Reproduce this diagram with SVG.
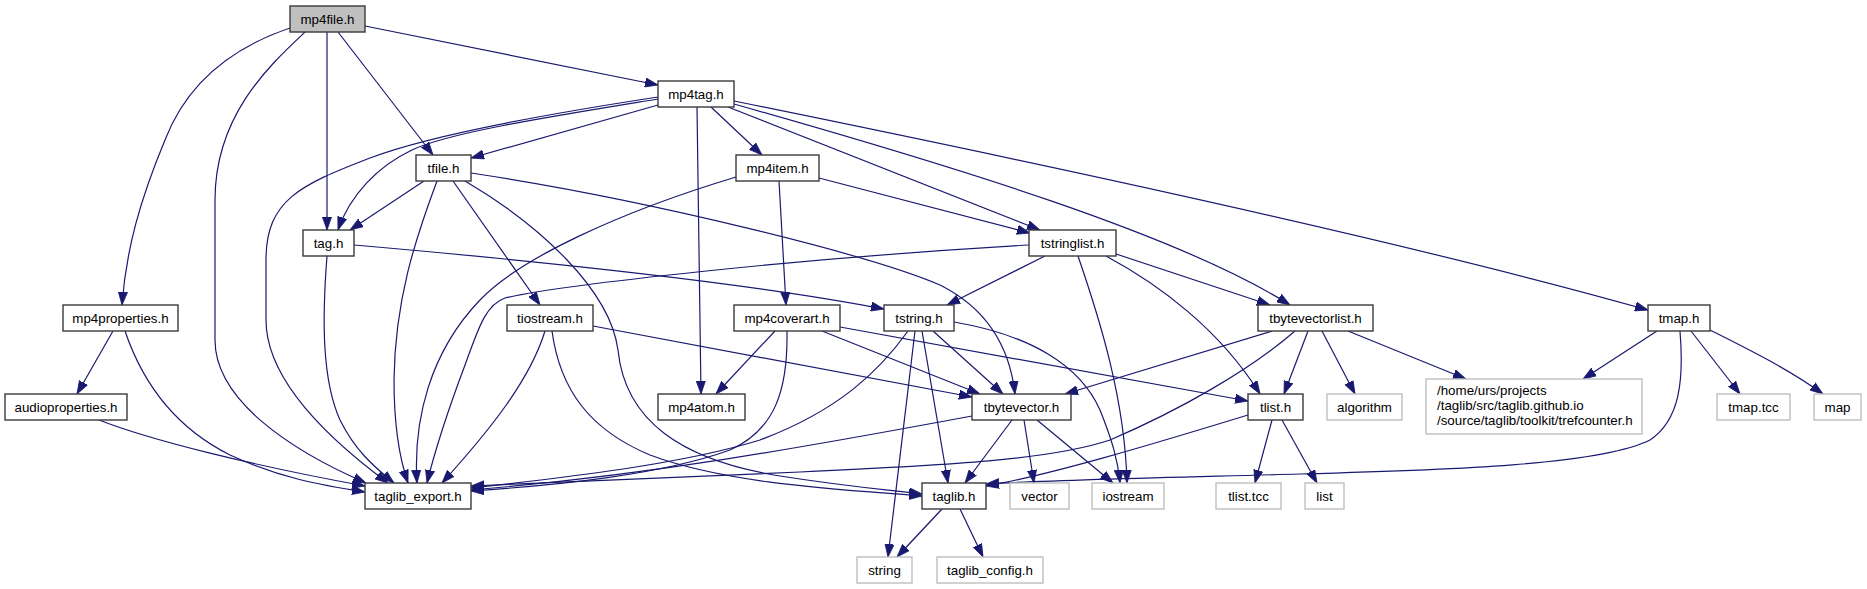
<svg xmlns="http://www.w3.org/2000/svg" width="1867" height="589" viewBox="0 0 1867 589">
<defs>
<marker id="ah" markerUnits="userSpaceOnUse" markerWidth="13" markerHeight="10" viewBox="0 0 13 10" refX="13" refY="5" orient="auto">
<path d="M0,0.4 L13,5 L0,9.6 Z" fill="#191970" stroke="#191970" stroke-width="0.8"/>
</marker>
</defs>
<style>
.e path{fill:none;stroke:#191970;stroke-width:1.2;marker-end:url(#ah)}
.n rect{fill:#ffffff;stroke:#3a3a3a;stroke-width:1.4}
.x rect{fill:#ffffff;stroke:#bfbfbf;stroke-width:1.4}
.r rect{fill:#bfbfbf;stroke:#3a3a3a;stroke-width:1.4}
text{font-family:"Liberation Sans",Arial,sans-serif;font-size:13.33px;fill:#000000}
.c{text-anchor:middle}
</style>
<rect x="0" y="0" width="1867" height="589" fill="#ffffff"/>
<g id="edges" class="e">
<path d="M290,28 C225,50 185,88 165,140 C140,200 126,250 122,305"/>
<path d="M305,32 C270,65 215,115 215,200 L215,340 C215,400 290,450 366,483"/>
<path d="M327,32 L327,230"/>
<path d="M338,32 L433,155"/>
<path d="M365,26 L658,85"/>
<path d="M658,105 L471,158"/>
<path d="M658,99 C560,115 450,132 412,150 C378,166 350,195 338,230"/>
<path d="M658,97 C560,112 430,135 370,158 C300,185 266,200 266,260 L266,320 C266,380 330,440 388,483"/>
<path d="M697,107 L701,394"/>
<path d="M711,107 L762,155"/>
<path d="M728,107 L1040,230"/>
<path d="M734,104 C950,165 1180,235 1290,305"/>
<path d="M734,101 C1000,155 1400,240 1648,310"/>
<path d="M736,177 C620,212 520,258 480,300 C430,352 413,420 417,483"/>
<path d="M779,181 L786,305"/>
<path d="M819,178 L1030,233"/>
<path d="M424,181 L350,230"/>
<path d="M437,181 C415,240 395,300 394,380 C394,430 400,460 408,483"/>
<path d="M453,181 L540,305"/>
<path d="M471,173 C650,200 870,255 940,285 C990,310 1010,350 1015,394"/>
<path d="M465,181 C540,225 610,290 618,350 C625,420 680,460 780,476 C850,487 890,490 922,494"/>
<path d="M327,256 C322,320 322,380 340,420 C355,450 372,465 394,483"/>
<path d="M354,245 C550,262 760,285 884,309"/>
<path d="M1029,245 C800,258 560,285 505,298 C485,305 478,330 465,365 C450,405 435,450 427,483"/>
<path d="M1045,256 L947,305"/>
<path d="M1078,256 C1100,320 1125,400 1127,483"/>
<path d="M1106,256 C1160,285 1220,330 1260,394"/>
<path d="M1116,254 L1270,305"/>
<path d="M787,331 C788,390 775,430 730,450 C660,475 560,485 471,491"/>
<path d="M775,331 L716,394"/>
<path d="M822,331 L980,394"/>
<path d="M840,327 L1248,401"/>
<path d="M908,331 C880,370 840,410 760,440 C680,465 560,478 471,488"/>
<path d="M933,331 L1003,394"/>
<path d="M922,331 L948,483"/>
<path d="M915,331 L888,557"/>
<path d="M954,322 C1030,335 1080,365 1100,410 C1112,440 1118,460 1120,483"/>
<path d="M545,331 C530,380 490,430 442,483"/>
<path d="M593,326 L972,397"/>
<path d="M552,331 C560,390 590,430 650,455 C730,485 850,490 922,496"/>
<path d="M1295,331 C1250,370 1180,410 1110,440 C1050,460 950,465 800,472 C650,478 540,483 471,486"/>
<path d="M1272,331 L1065,394"/>
<path d="M1308,331 L1284,394"/>
<path d="M1322,331 L1355,394"/>
<path d="M1348,331 L1466,379"/>
<path d="M972,416 C800,448 650,475 471,490"/>
<path d="M1012,420 L965,483"/>
<path d="M1024,420 L1034,483"/>
<path d="M1037,420 L1113,483"/>
<path d="M1248,415 C1150,445 1050,475 986,486"/>
<path d="M1272,420 L1255,483"/>
<path d="M1282,420 L1317,483"/>
<path d="M1680,331 C1684,380 1680,420 1650,440 C1600,465 1450,470 1300,474 C1150,478 1050,480 986,484"/>
<path d="M1657,331 L1583,379"/>
<path d="M1691,331 L1740,394"/>
<path d="M1710,330 C1750,350 1790,370 1823,394"/>
<path d="M942,509 L897,557"/>
<path d="M960,509 L983,557"/>
<path d="M113,331 L77,394"/>
<path d="M125,331 C145,390 180,430 230,455 C280,478 320,485 365,492"/>
<path d="M99,420 C150,440 250,465 365,486"/>
</g>
<g id="mp4file" class="r"><rect x="290" y="6" width="75" height="26"/><text class="c" x="327.5" y="24">mp4file.h</text></g>
<g id="mp4tag" class="n"><rect x="658" y="81" width="76" height="26"/><text class="c" x="696" y="99">mp4tag.h</text></g>
<g id="tfile" class="n"><rect x="416" y="155" width="55" height="26"/><text class="c" x="443.5" y="173">tfile.h</text></g>
<g id="mp4item" class="n"><rect x="736" y="155" width="83" height="26"/><text class="c" x="777.5" y="173">mp4item.h</text></g>
<g id="tag" class="n"><rect x="303" y="230" width="51" height="26"/><text class="c" x="328.5" y="248">tag.h</text></g>
<g id="tstringlist" class="n"><rect x="1029" y="230" width="87" height="26"/><text class="c" x="1072.5" y="248">tstringlist.h</text></g>
<g id="mp4properties" class="n"><rect x="63" y="305" width="115" height="26"/><text class="c" x="120.5" y="323">mp4properties.h</text></g>
<g id="tiostream" class="n"><rect x="507" y="305" width="86" height="26"/><text class="c" x="550" y="323">tiostream.h</text></g>
<g id="mp4coverart" class="n"><rect x="734" y="305" width="106" height="26"/><text class="c" x="787" y="323">mp4coverart.h</text></g>
<g id="tstring" class="n"><rect x="884" y="305" width="70" height="26"/><text class="c" x="919" y="323">tstring.h</text></g>
<g id="tbytevectorlist" class="n"><rect x="1258" y="305" width="115" height="26"/><text class="c" x="1315.5" y="323">tbytevectorlist.h</text></g>
<g id="tmap" class="n"><rect x="1648" y="305" width="62" height="26"/><text class="c" x="1679" y="323">tmap.h</text></g>
<g id="audioproperties" class="n"><rect x="5" y="394" width="122" height="26"/><text class="c" x="66" y="412">audioproperties.h</text></g>
<g id="mp4atom" class="n"><rect x="658" y="394" width="87" height="26"/><text class="c" x="701.5" y="412">mp4atom.h</text></g>
<g id="tbytevector" class="n"><rect x="972" y="394" width="99" height="26"/><text class="c" x="1021.5" y="412">tbytevector.h</text></g>
<g id="tlist" class="n"><rect x="1248" y="394" width="55" height="26"/><text class="c" x="1275.5" y="412">tlist.h</text></g>
<g id="algorithm" class="x"><rect x="1327" y="394" width="75" height="26"/><text class="c" x="1364.5" y="412">algorithm</text></g>
<g id="trefcounter" class="x"><rect x="1426" y="379" width="216" height="55"/><text x="1437" y="395">/home/urs/projects</text><text x="1437" y="410">/taglib/src/taglib.github.io</text><text x="1437" y="425">/source/taglib/toolkit/trefcounter.h</text></g>
<g id="tmap_tcc" class="x"><rect x="1717" y="394" width="73" height="26"/><text class="c" x="1753.5" y="412">tmap.tcc</text></g>
<g id="map" class="x"><rect x="1814" y="394" width="47" height="26"/><text class="c" x="1837.5" y="412">map</text></g>
<g id="taglib_export" class="n"><rect x="365" y="483" width="106" height="26"/><text class="c" x="418" y="501">taglib_export.h</text></g>
<g id="taglib" class="n"><rect x="922" y="483" width="64" height="26"/><text class="c" x="954" y="501">taglib.h</text></g>
<g id="vector" class="x"><rect x="1010" y="483" width="59" height="26"/><text class="c" x="1039.5" y="501">vector</text></g>
<g id="iostream" class="x"><rect x="1092" y="483" width="72" height="26"/><text class="c" x="1128" y="501">iostream</text></g>
<g id="tlist_tcc" class="x"><rect x="1216" y="483" width="65" height="26"/><text class="c" x="1248.5" y="501">tlist.tcc</text></g>
<g id="list" class="x"><rect x="1305" y="483" width="39" height="26"/><text class="c" x="1324.5" y="501">list</text></g>
<g id="string" class="x"><rect x="857" y="557" width="55" height="26"/><text class="c" x="884.5" y="575">string</text></g>
<g id="taglib_config" class="x"><rect x="937" y="557" width="106" height="26"/><text class="c" x="990" y="575">taglib_config.h</text></g>
</svg>
